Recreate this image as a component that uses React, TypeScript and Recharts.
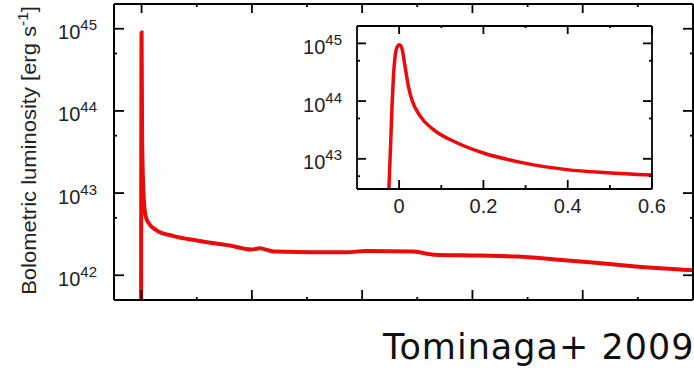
import React from "react";
import { LineChart, Line, XAxis, YAxis } from "recharts";

// ---------- data ----------
const mainTime = [-0.05, 0, 0.05, 0.2, 0.35, 0.6, 1.4, 2.9, 5.0, 8.0, 10.0, 10.7, 12.0, 18.6, 20.3, 24.7, 26.5, 30.6, 34.1, 37.5, 40.9, 44.3, 50];
const mainLum = [1e41, 9e44, 4.5e43, 8.5e42, 5.4e42, 4.4e42, 3.5e42, 3.0e42, 2.65e42, 2.3e42, 2.06e42, 2.13e42, 1.95e42, 1.9e42, 1.98e42, 1.94e42, 1.78e42, 1.74e42, 1.69e42, 1.56e42, 1.43e42, 1.3e42, 1.15e42];

const insetTime = [-0.026, -0.02, -0.0166, -0.0135, -0.0095, -0.004, 0.0, 0.0064, 0.014, 0.022, 0.03, 0.05, 0.0815, 0.137, 0.2, 0.295, 0.398, 0.493, 0.6];
const insetLum = [1.5e42, 1.9e43, 9.3e43, 2.7e44, 6.0e44, 8.9e44, 9.5e44, 8.3e44, 4.0e44, 1.8e44, 1.07e44, 5.5e43, 3.2e43, 1.9e43, 1.26e43, 8.5e42, 6.5e42, 5.75e42, 5.25e42];

const mainXMajor = [0, 10, 20, 30, 40];
const mainXMinor = [5, 15, 25, 35, 45];
const mainYMajor = [1e42, 1e43, 1e44, 1e45];
const mainYMinor = [5e42, 5e43, 5e44];
const insetXMajor = [0, 0.2, 0.4, 0.6];
const insetXMinor = [0.1, 0.3, 0.5];
const insetXLabels = ["0", "0.2", "0.4", "0.6"];
const insetYMajor = [1e43, 1e44, 1e45];
const insetYMinor = [5e42, 5e43, 5e44];

const yLabel = "Bolometric luminosity [erg s";
const yLabelSup = "-1";
const credit = "Tominaga+ 2009";

const mainData = mainTime.map((t, i) => ({ t, L: mainLum[i] }));
const insetData = insetTime.map((t, i) => ({ t, L: insetLum[i] }));

const RED = "#ec0a0a";
const FONT = "'Liberation Sans', Arial, Helvetica, sans-serif";

// ---------- tick renderers: draw the inward tick mark and an optional label ----------
type Side = "left" | "right" | "bottom" | "top";
const makeTick = (side: Side, len: number, label?: (p: any) => React.ReactNode) => (props: any) => {
  const { x, y } = props;
  let d = "";
  if (side === "left") d = `M${x},${y}h${len}`;
  if (side === "right") d = `M${x},${y}h${-len}`;
  if (side === "bottom") d = `M${x},${y}v${-len}`;
  if (side === "top") d = `M${x},${y}v${len}`;
  return (
    <g>
      <path d={d} stroke="#000" strokeWidth={1.8} fill="none" />
      {label ? label(props) : null}
    </g>
  );
};

const powerLabel = (gap: number) => (props: any) => {
  const { x, y, payload } = props;
  return (
    <text x={x - gap} y={y + 10.5} textAnchor="end" fontSize={20} fontFamily={FONT} fill="#222">
      10<tspan dy={-9} fontSize={15}>{Math.round(Math.log10(payload.value))}</tspan>
    </text>
  );
};

const insetXLabel = (props: any) => {
  const { x, y, index } = props;
  return (
    <text x={x} y={y + 24} textAnchor="middle" fontSize={20} fontFamily={FONT} fill="#222">
      {insetXLabels[index]}
    </text>
  );
};

const YLabelContent = () => (
  <text
    transform="translate(36,150.5) rotate(-90) scale(1.1,1)"
    textAnchor="middle"
    fontSize={20}
    fontFamily={FONT}
    fill="#222"
  >
    {yLabel}
    <tspan dy={-8} fontSize={14}>{yLabelSup}</tspan>
    <tspan dy={8}>]</tspan>
  </text>
);

const common = {
  type: "number" as const,
  interval: 0 as const,
  allowDataOverflow: true,
  tickSize: 0,
  tickMargin: 0,
  tickLine: false,
};

function axesFor(
  xDomain: [number, number],
  yDomain: [number, number],
  xMajor: number[],
  xMinor: number[],
  yMajor: number[],
  yMinor: number[],
  frameWidth: number,
  len: { xb: number; xbm: number; xt: number; xtm: number; y: number; ym: number },
  leftGap: number,
  xLabels: boolean,
  yLabelEl: React.ReactElement | null
) {
  const frame = { stroke: "#000", strokeWidth: frameWidth };
  return [
    <XAxis key="xb" {...common} xAxisId="b" dataKey="t" domain={xDomain} ticks={xMajor} height={1}
      axisLine={frame} tick={makeTick("bottom", len.xb, xLabels ? insetXLabel : undefined)} />,
    <XAxis key="xbm" {...common} xAxisId="bm" dataKey="t" domain={xDomain} ticks={xMinor} height={1}
      axisLine={false} tick={makeTick("bottom", len.xbm - 1)} />,
    <XAxis key="xt" {...common} xAxisId="t" orientation="top" dataKey="t" domain={xDomain} ticks={xMajor} height={1}
      axisLine={frame} tick={makeTick("top", len.xt)} />,
    <XAxis key="xtm" {...common} xAxisId="tm" orientation="top" dataKey="t" domain={xDomain} ticks={xMinor} height={1}
      axisLine={false} tick={makeTick("top", len.xtm - 1)} />,
    <YAxis key="yl" {...common} yAxisId="l" dataKey="L" scale="log" domain={yDomain} ticks={yMajor} width={1}
      axisLine={frame} tick={makeTick("left", len.y, powerLabel(leftGap))}
      label={yLabelEl ? { content: yLabelEl } : undefined} />,
    <YAxis key="ylm" {...common} yAxisId="lm" dataKey="L" scale="log" domain={yDomain} ticks={yMinor} width={1}
      axisLine={false} tick={makeTick("left", len.ym - 1)} />,
    <YAxis key="yr" {...common} yAxisId="r" orientation="right" dataKey="L" scale="log" domain={yDomain} ticks={yMajor} width={1}
      axisLine={frame} tick={makeTick("right", len.y)} />,
    <YAxis key="yrm" {...common} yAxisId="rm" orientation="right" dataKey="L" scale="log" domain={yDomain} ticks={yMinor} width={1}
      axisLine={false} tick={makeTick("right", len.ym - 1)} />,
  ];
}

export default function App() {
  return (
    <div style={{ position: "absolute", left: 0, top: 0, width: 694, height: 371, background: "#fff" }}>
      {/* main panel */}
      <div style={{ position: "absolute", left: 0, top: 0 }}>
        <LineChart width={694} height={371} data={mainData} margin={{ top: 2, right: -1, bottom: 69, left: 112 }}>
          {axesFor(
            [-2.5, 50],
            [5e41, 2e45],
            mainXMajor,
            mainXMinor,
            mainYMajor,
            mainYMinor,
            2,
            { xb: 10, xbm: 5, xt: 9, xtm: 5, y: 10, ym: 5 },
            17,
            false,
            <YLabelContent />
          )}
          <Line
            xAxisId="b"
            yAxisId="l"
            dataKey="L"
            type="monotone"
            stroke={RED}
            strokeWidth={4}
            dot={false}
            isAnimationActive={false}
          />
        </LineChart>
      </div>

      {/* inset */}
      <div style={{ position: "absolute", left: 0, top: 0 }}>
        <LineChart width={694} height={371} data={insetData} margin={{ top: 24, right: 40, bottom: 180, left: 355 }}>
          {axesFor(
            [-0.1, 0.6],
            [3e42, 2e45],
            insetXMajor,
            insetXMinor,
            insetYMajor,
            insetYMinor,
            1.8,
            { xb: 9, xbm: 6, xt: 8, xtm: 4, y: 9, ym: 5 },
            15,
            true,
            null
          )}
          <Line
            xAxisId="b"
            yAxisId="l"
            dataKey="L"
            type="monotone"
            stroke={RED}
            strokeWidth={3.5}
            dot={false}
            isAnimationActive={false}
          />
        </LineChart>
      </div>

      {/* credit */}
      <svg width={694} height={371} style={{ position: "absolute", left: 0, top: 0, pointerEvents: "none" }}>
        <text x={383} y={359} fontSize={35} letterSpacing={1} fontFamily="'DejaVu Sans', Verdana, sans-serif" fill="#111">
          {credit}
        </text>
      </svg>
    </div>
  );
}
